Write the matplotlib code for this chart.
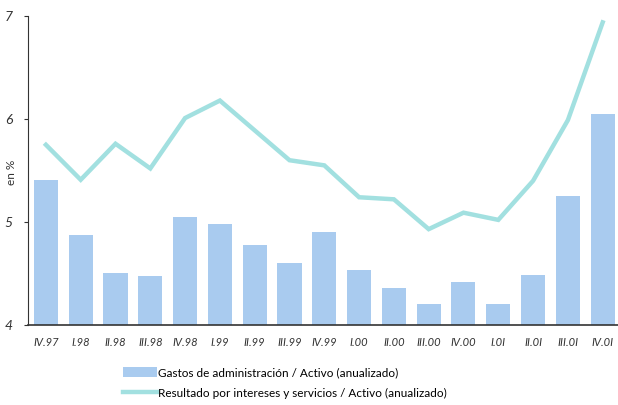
import matplotlib
matplotlib.use("Agg")
import matplotlib.pyplot as plt
import numpy as np

categories = ["IV.97", "I.98", "II.98", "III.98", "IV.98", "I.99", "II.99", "III.99", "IV.99",
              "I.00", "II.00", "III.00", "IV.00", "I.01", "II.01", "III.01", "IV.01"]
tick_labels = ["IV.97", "I.98", "II.98", "III.98", "IV.98", "I.99", "II.99", "III.99", "IV.99",
               "I.00", "II.00", "III.00", "IV.00", "I.0I", "II.0I", "III.0I", "IV.0I"]
gastos = [5.41, 4.87, 4.50, 4.47, 5.05, 4.98, 4.78, 4.60, 4.90,
          4.53, 4.36, 4.20, 4.42, 4.20, 4.48, 5.25, 6.05]
resultado = [5.75, 5.41, 5.76, 5.52, 6.01, 6.18, 5.89, 5.60, 5.55,
             5.24, 5.22, 4.93, 5.09, 5.02, 5.40, 5.99, 6.94]

plt.rcParams['font.family'] = ['Lato', 'DejaVu Sans']

fig = plt.figure(figsize=(6.18, 4.05), dpi=100)
ax = fig.add_axes([0.045, 0.198, 0.955, 0.762])

x = np.arange(len(categories))
bars = ax.bar(x, np.array(gastos) - 4, bottom=4, width=0.69, color="#A9CBEF", zorder=2)
line, = ax.plot(x, resultado, color="#A2E0E0", linewidth=3.2, solid_joinstyle="miter", zorder=3)

ax.set_ylim(4, 7)
ax.set_xlim(-0.52, 16.44)
ax.set_yticks([4, 5, 6, 7])
ax.set_yticklabels(["4", "5", "6", "7"], fontstyle="italic", fontsize=10, color="#333333")
ax.set_xticks(x)
ax.set_xticklabels(tick_labels, fontstyle="italic", fontsize=8, color="#333333")
ax.tick_params(axis="x", length=0, pad=9)
ax.tick_params(axis="y", length=3, direction="out", pad=8, color="#333333")
for s in ["top", "right"]:
    ax.spines[s].set_visible(False)
ax.spines["left"].set_color("#333333")
ax.spines["bottom"].set_color("#333333")
ax.spines["bottom"].set_linewidth(1.2)

fig.text(0.018, 0.575, "en %", rotation=90, fontsize=8.5, color="#333333", va="center", ha="center")

fig.legend([bars, line],
           ["Gastos de administración / Activo (anualizado)",
            "Resultado por intereses y servicios / Activo (anualizado)"],
           loc="upper left", bbox_to_anchor=(0.189, 0.108), frameon=False, fontsize=8.5,
           handlelength=2.9, handleheight=0.9, handletextpad=0.12, labelspacing=0.82, borderpad=0)

fig.savefig("out.png", dpi=100)
